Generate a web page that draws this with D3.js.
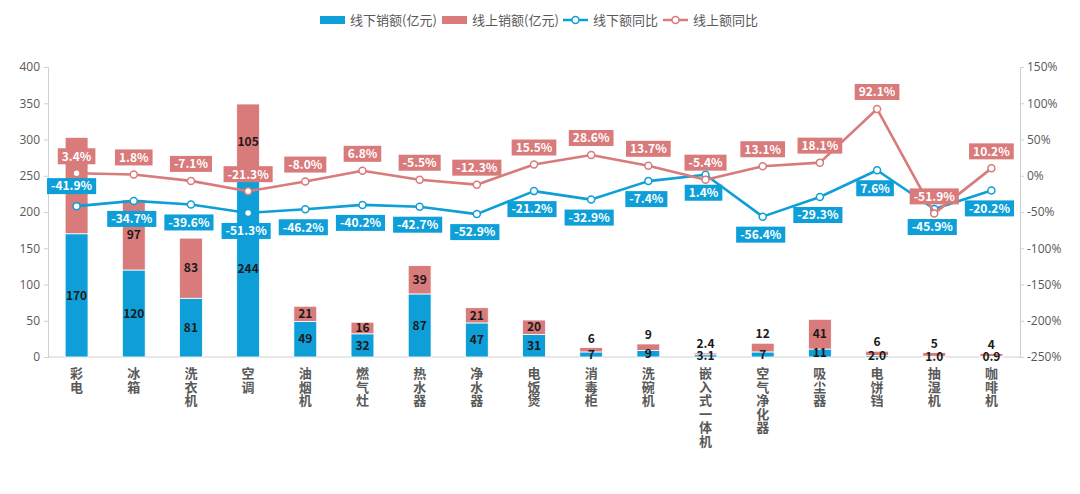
<!DOCTYPE html>
<html><head><meta charset="utf-8">
<script src="https://cdn.jsdelivr.net/npm/d3@7"></script>
<style>
html,body{margin:0;padding:0;background:#fff;}
svg{display:block;font-family:"Noto Sans CJK SC","Noto Sans",sans-serif;}
</style></head>
<body>
<svg id="chart" width="1080" height="494"></svg>
<script>
const categories = ["彩电","冰箱","洗衣机","空调","油烟机","燃气灶","热水器","净水器","电饭煲","消毒柜","洗碗机","嵌入式一体机","空气净化器","吸尘器","电饼铛","抽湿机","咖啡机"];
const offlineSales = [170,120,81,244,49,32,87,47,31,7,9,3.1,7,11,2.0,1.0,0.9];
const onlineSales  = [133,97,83,105,21,16,39,21,20,6,9,2.4,12,41,6,5,4];
const offlineYoY = [-41.9,-34.7,-39.6,-51.3,-46.2,-40.2,-42.7,-52.9,-21.2,-32.9,-7.4,1.4,-56.4,-29.3,7.6,-45.9,-20.2];
const onlineYoY  = [3.4,1.8,-7.1,-21.3,-8.0,6.8,-5.5,-12.3,15.5,28.6,13.7,-5.4,13.1,18.1,92.1,-51.9,10.2];
const leftTicks = [0,50,100,150,200,250,300,350,400];
const rightTicks = [150,100,50,0,-50,-100,-150,-200,-250];
const seriesNames = ["线下销额(亿元)","线上销额(亿元)","线下额同比","线上额同比"];

const BLUE = "#0e9fd8", RED = "#d97a7b", TXT = "#595959", AXIS = "#d0d0d0";
const svg = d3.select("#chart");
const L = 48, R = 1020, T = 67, B = 357;

const x = d3.scaleBand().domain(categories).range([L, R]).paddingInner(0.6).paddingOuter(0.3);
const y = d3.scaleLinear().domain([0, 400]).range([B, T]);
const y2 = d3.scaleLinear().domain([-250, 150]).range([B, T]);
const cx = c => x(c) + x.bandwidth() / 2;

const rows = categories.map((c, i) => ({cat: c, offline: offlineSales[i], online: onlineSales[i]}));
const stacked = d3.stack().keys(["offline", "online"])(rows);

// axes
const gl = svg.append("g").attr("transform", `translate(${L},0)`)
  .call(d3.axisLeft(y).tickValues(leftTicks).tickSize(4).tickPadding(4));
const gr = svg.append("g").attr("transform", `translate(${R},0)`)
  .call(d3.axisRight(y2).tickValues(rightTicks).tickSize(4).tickPadding(3).tickFormat(d => d + "%"));
[gl, gr].forEach(g => {
  g.select(".domain").attr("stroke", AXIS);
  g.selectAll(".tick line").attr("stroke", AXIS);
  g.selectAll(".tick text").attr("fill", TXT).style("font-size", "12px").style("font-family", '"Open Sans","Noto Sans",sans-serif');
});
svg.append("line").attr("x1", L).attr("x2", R).attr("y1", B).attr("y2", B).attr("stroke", AXIS);

// bars
const colors = {offline: BLUE, online: RED};
stacked.forEach(s => {
  svg.append("g").selectAll("rect").data(s).join("rect")
    .attr("x", d => x(d.data.cat)).attr("width", x.bandwidth())
    .attr("y", d => y(d[1])).attr("height", d => y(d[0]) - y(d[1]))
    .attr("fill", colors[s.key]).attr("stroke", "#fff").attr("stroke-width", 0.8);
});
const fmt = v => v < 3.5 ? v.toFixed(1) : String(Math.round(v));
const bl = svg.append("g").style("font-size", "12px").style("font-weight", "bold").attr("fill", "#1a1a1a").attr("text-anchor", "middle");
stacked[0].forEach(d => {
  bl.append("text").attr("x", cx(d.data.cat)).attr("y", (y(d[0]) + y(d[1])) / 2).attr("dy", "0.35em").text(fmt(d.data.offline));
});
stacked[1].forEach(d => {
  const inside = d.data.online >= 14;
  bl.append("text").attr("x", cx(d.data.cat))
    .attr("y", inside ? (y(d[0]) + y(d[1])) / 2 : y(d[1]) - 9)
    .attr("dy", "0.35em").text(fmt(d.data.online));
});

// lines
function drawLine(vals, color) {
  const line = d3.line().x((d, i) => cx(categories[i])).y(d => y2(d));
  svg.append("path").datum(vals).attr("d", line).attr("fill", "none").attr("stroke", color).attr("stroke-width", 2.6).attr("stroke-linejoin", "round");
  svg.append("g").selectAll("circle").data(vals).join("circle")
    .attr("cx", (d, i) => cx(categories[i])).attr("cy", d => y2(d)).attr("r", 3.5)
    .attr("fill", "#fff").attr("stroke", color).attr("stroke-width", 1.5);
}
drawLine(offlineYoY, BLUE);
drawLine(onlineYoY, RED);

function labels(vals, color, placeFn, shiftFn) {
  const g = svg.append("g");
  vals.forEach((v, i) => {
    const px = cx(categories[i]) + shiftFn(i), py = y2(v);
    const t = g.append("text").attr("text-anchor", "middle").attr("fill", "#fff")
      .style("font-size", "12px").style("font-weight", "bold").text(v.toFixed(1) + "%");
    const w = t.node().getComputedTextLength() + 8, h = 16;
    const above = placeFn(i);
    const top = above ? py - (color === RED ? 9 : 12) - h : py + 10;
    g.insert("rect", "text:last-of-type").attr("x", px - w / 2).attr("y", top).attr("width", w).attr("height", h).attr("fill", color);
    t.attr("x", px).attr("y", top + h / 2).attr("dy", "0.36em").raise();
  });
}
labels(onlineYoY, RED, () => true, () => 0);
labels(offlineYoY, BLUE, i => i === 0, i => i === 0 ? -5 : -2);

// x labels vertical
const xl = svg.append("g").attr("fill", TXT).style("font-size", "13px").style("font-weight", "bold").attr("text-anchor", "middle");
categories.forEach(c => {
  const t = xl.append("text").attr("x", cx(c)).attr("y", 378);
  [...c].forEach((ch, k) => t.append("tspan").attr("x", cx(c)).attr("dy", k === 0 ? 0 : 13.5).text(ch));
});

// legend
const lg = svg.append("g").style("font-size", "13px").attr("fill", TXT);
const legendX = [320, 442, 563, 663];
seriesNames.forEach((n, i) => {
  const lx = legendX[i], ly = 20;
  const col = i % 2 === 0 ? BLUE : RED;
  if (i < 2) {
    lg.append("rect").attr("x", lx).attr("y", ly - 4).attr("width", 25).attr("height", 8).attr("fill", col);
  } else {
    lg.append("line").attr("x1", lx).attr("x2", lx + 25).attr("y1", ly).attr("y2", ly).attr("stroke", col).attr("stroke-width", 2.5);
    lg.append("circle").attr("cx", lx + 12.5).attr("cy", ly).attr("r", 3.5).attr("fill", "#fff").attr("stroke", col).attr("stroke-width", 1.5);
  }
  lg.append("text").attr("x", lx + 30).attr("y", ly).attr("dy", "0.35em").text(n);
});
</script>
</body></html>
